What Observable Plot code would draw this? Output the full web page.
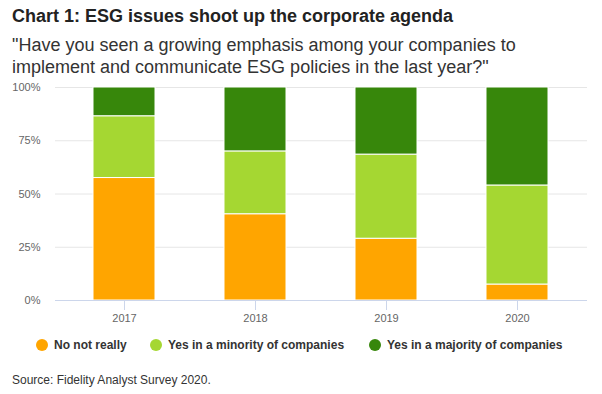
<!DOCTYPE html>
<html><head><meta charset="utf-8">
<script src="https://cdn.jsdelivr.net/npm/d3@7"></script>
<script src="https://cdn.jsdelivr.net/npm/@observablehq/plot@0.6"></script>
<style>
body{margin:0;background:#fff;font-family:"Liberation Sans",Arial,sans-serif;}
#wrap{position:relative;width:602px;height:394px;overflow:hidden;}
#title{position:absolute;left:12px;top:6px;font-size:18px;font-weight:bold;color:#222;white-space:nowrap;}
#sub{position:absolute;left:12px;top:34px;font-size:18px;line-height:22px;color:#333;width:590px;}
#chart{position:absolute;left:0;top:75px;}
#legend{position:absolute;top:338px;left:0;width:602px;font-size:12px;color:#333;}
.li{position:absolute;top:0;white-space:nowrap;font-weight:bold;}
.dot{display:inline-block;width:12px;height:12px;border-radius:50%;vertical-align:-2px;margin-right:6px;}
#src{position:absolute;left:12px;top:373px;font-size:12px;color:#333;}
</style></head>
<body><div id="wrap">
<div id="title">Chart 1: ESG issues shoot up the corporate agenda</div>
<div id="sub">"Have you seen a growing emphasis among your companies to implement and communicate ESG policies in the last year?"</div>
<div id="chart"></div>
<div id="legend"></div>
<div id="src">Source: Fidelity Analyst Survey 2020.</div>
</div>
<script>
const years = ["2017","2018","2019","2020"];
const seriesNames = ["No not really","Yes in a minority of companies","Yes in a majority of companies"];
const noNotReally = [57.5, 40.5, 29, 7.5];
const yesMinority = [29, 29.5, 39.5, 46.5];
const yesMajority = [13.5, 30, 31.5, 46];
const colors = ["#ffa500","#a5d732","#37870b"];
const yTicks = [0, 25, 50, 75, 100];

const seriesValues = [noNotReally, yesMinority, yesMajority];
const rows = [];
seriesNames.forEach((s, si) => years.forEach((y, yi) => rows.push({year: y, series: s, order: si, value: seriesValues[si][yi]})));

const chart = Plot.plot({
  width: 602,
  height: 250,
  marginLeft: 55,
  marginRight: 15,
  marginTop: 12,
  marginBottom: 25,
  insetLeft: 3,
  insetRight: 5,
  style: {fontFamily: '"Liberation Sans", Arial, sans-serif', fontSize: "11px", color: "#666"},
  x: {domain: years, paddingInner: 0.527, paddingOuter: 0.2635, label: null},
  y: {domain: [0, 100], ticks: yTicks, label: null},
  color: {domain: seriesNames, range: colors},
  marks: [
    Plot.gridY(yTicks, {stroke: "#e6e6e6", strokeOpacity: 1}),
    Plot.barY(rows, Plot.stackY({order: null, x: "year", y: "value", fill: "series", z: "series", stroke: "white", strokeWidth: 1})),
    Plot.ruleY([0], {stroke: "#ccd6eb"}),
    Plot.axisX({tickSize: 10, tickPadding: 4, stroke: "#ccd6eb", fill: "#666", fontSize: 11}),
    Plot.axisY({ticks: yTicks, tickSize: 0, tickPadding: 15, tickFormat: d => d + "%", fill: "#666", fontSize: 11})
  ]
});
document.getElementById("chart").appendChild(chart);

const legend = document.getElementById("legend");
const lx = [36, 150, 369];
seriesNames.forEach((s, i) => {
  const d = document.createElement("div");
  d.className = "li";
  d.style.left = lx[i] + "px";
  d.innerHTML = `<span class="dot" style="background:${colors[i]}"></span>${s}`;
  legend.appendChild(d);
});
</script>
</body></html>
